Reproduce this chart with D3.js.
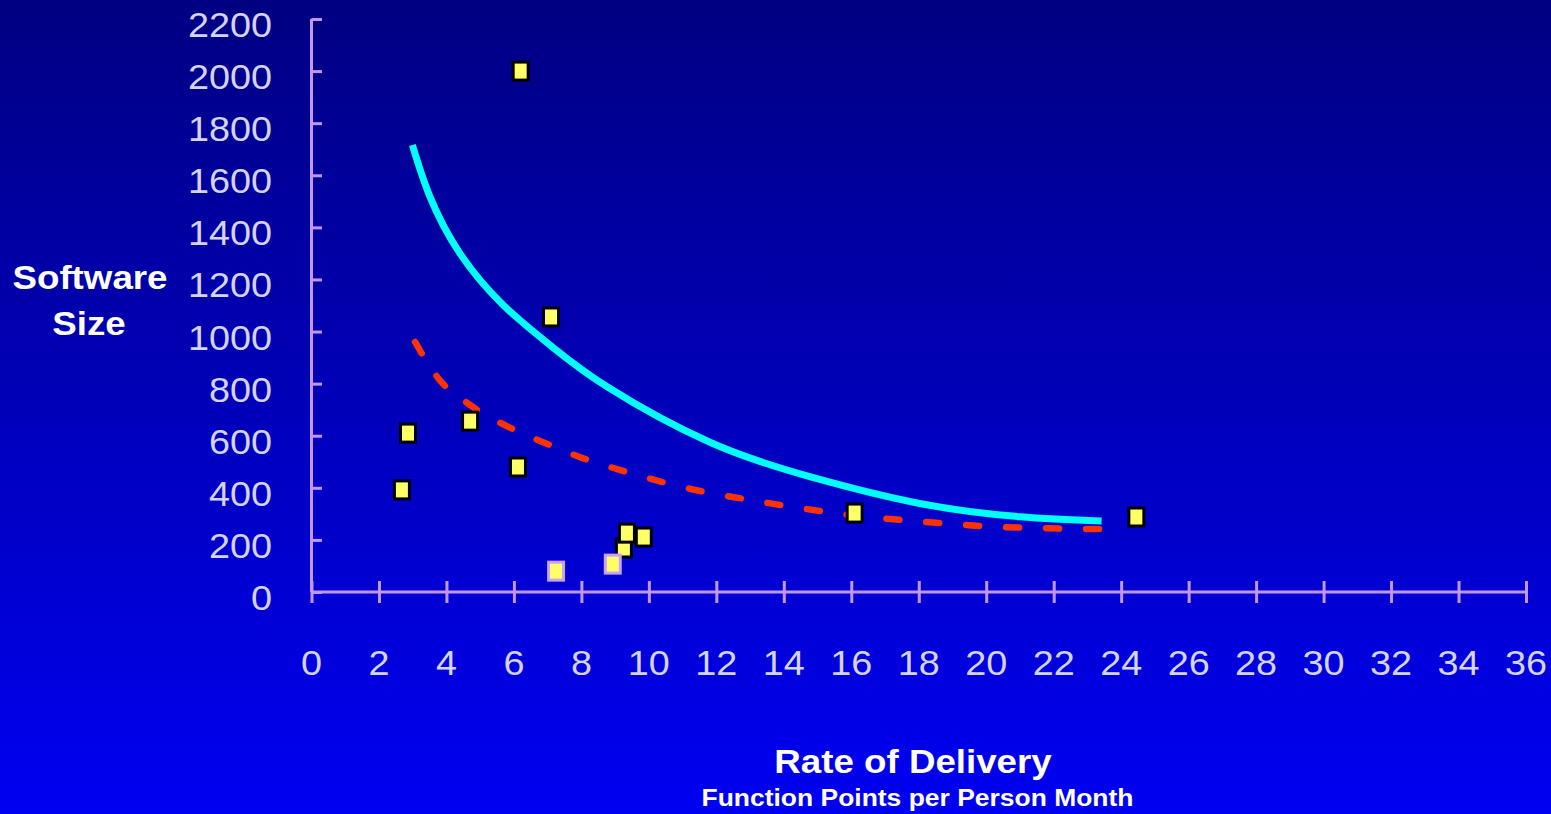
<!DOCTYPE html>
<html>
<head>
<meta charset="utf-8">
<script src="https://cdn.jsdelivr.net/npm/d3@7"></script>
<style>
  html, body { margin: 0; padding: 0; background: #0000c0; }
  svg { display: block; }
</style>
</head>
<body>
<svg id="chart" width="1551" height="814"></svg>
<script>
// ---------- data ----------
const xTicks = [0, 2, 4, 6, 8, 10, 12, 14, 16, 18, 20, 22, 24, 26, 28, 30, 32, 34, 36];
const yTicks = [0, 200, 400, 600, 800, 1000, 1200, 1400, 1600, 1800, 2000, 2200];

// projects (rate of delivery, software size)
const projectRate = [2.68, 2.86, 4.70, 6.12, 6.20, 7.10, 9.26, 9.35, 9.85, 16.10, 24.45];
const projectSize = [392, 610, 656, 480, 2000, 1056, 169, 226, 211, 303, 288];

// highlighted projects (light border)
const highlightRate = [7.25, 8.93];
const highlightSize = [80, 107];

// upper (solid cyan) trend curve
const upperRate = [2.99, 3.51, 4.40, 5.68, 7.07, 8.80, 11.81, 14.77, 18.03, 20.99, 23.42];
const upperSize = [1716, 1518, 1300, 1102, 948, 785, 575, 443, 340, 289, 273];

// lower (dashed red) trend curve
const lowerRate = [3.07, 3.75, 4.70, 5.79, 6.92, 8.04, 9.23, 10.41, 11.66, 12.84, 14.09, 15.30, 16.55, 17.79, 19.01, 20.25, 21.50, 22.77, 23.42];
const lowerSize = [960, 822, 718, 637, 572, 514, 465, 422, 384, 357, 330, 307, 288, 273, 261, 250, 246, 242, 242];

// ---------- setup ----------
const svg = d3.select("#chart");
const W = 1551, H = 814;

const defs = svg.append("defs");
const grad = defs.append("linearGradient").attr("id", "bg")
  .attr("x1", 0).attr("y1", 0).attr("x2", 0).attr("y2", 1);
grad.append("stop").attr("offset", "0%").attr("stop-color", "#000082");
grad.append("stop").attr("offset", "100%").attr("stop-color", "#0000f2");
svg.append("rect").attr("width", W).attr("height", H).attr("fill", "url(#bg)");

const x = d3.scaleLinear().domain([0, 36]).range([311.5, 1526]);
const y = d3.scaleLinear().domain([0, 2200]).range([592, 19]);

const axisColor = "#c496f8";
const labelColor = "#d4d4ff";
const font = "'Liberation Sans', Arial, Helvetica, sans-serif";
const stretch = 1.08;

// ---------- axes ----------
const gx = svg.append("g").attr("transform", `translate(0,${y(0)})`)
  .call(d3.axisBottom(x).tickValues(xTicks).tickSize(11).tickFormat(""));
gx.select(".domain").attr("stroke", axisColor).attr("stroke-width", 3)
  .attr("d", `M${x(0)},0H${x(36)}`);
gx.selectAll(".tick line").attr("stroke", axisColor).attr("stroke-width", 3).attr("y1", -11);

const gy = svg.append("g").attr("transform", `translate(${x(0)},0)`)
  .call(d3.axisLeft(y).tickValues(yTicks).tickSize(10.5).tickFormat(""));
gy.select(".domain").attr("stroke", axisColor).attr("stroke-width", 3)
  .attr("d", `M0,${y(0)}V${y(2200)}`);
gy.selectAll(".tick line").attr("stroke", axisColor).attr("stroke-width", 3).attr("x2", 10.5);

// tick labels
svg.append("g").selectAll("text").data(xTicks).join("text")
  .attr("transform", d => `translate(${x(d)},675) scale(${stretch},1)`)
  .attr("text-anchor", "middle")
  .attr("font-family", font).attr("font-size", 35)
  .attr("fill", labelColor)
  .text(d => d);

svg.append("g").selectAll("text").data(yTicks).join("text")
  .attr("transform", d => `translate(272,${y(d) + 18}) scale(${stretch},1)`)
  .attr("text-anchor", "end")
  .attr("font-family", font).attr("font-size", 35)
  .attr("fill", labelColor)
  .text(d => d);

// ---------- curves ----------
const smoothLine = d3.line().x(d => x(d[0])).y(d => y(d[1])).curve(d3.curveNatural);
const line = d3.line().x(d => x(d[0])).y(d => y(d[1])).curve(d3.curveMonotoneX);

svg.append("path")
  .datum(upperRate.map((r, i) => [r, upperSize[i]]))
  .attr("d", smoothLine)
  .attr("fill", "none").attr("stroke", "#00ffff").attr("stroke-width", 7);

svg.append("path")
  .datum(lowerRate.map((r, i) => [r, lowerSize[i]]))
  .attr("d", line)
  .attr("fill", "none").attr("stroke", "#ff3300").attr("stroke-width", 6.5)
  .attr("stroke-linecap", "round").attr("stroke-dasharray", "13 27");

// ---------- markers ----------
const mw = 15, mh = 18;
svg.append("g").selectAll("rect")
  .data(projectRate.map((r, i) => [r, projectSize[i]]))
  .join("rect")
  .attr("x", d => x(d[0]) - mw / 2).attr("y", d => y(d[1]) - mh / 2)
  .attr("width", mw).attr("height", mh)
  .attr("fill", "#ffff66").attr("stroke", "#000000").attr("stroke-width", 3);

svg.append("g").selectAll("rect")
  .data(highlightRate.map((r, i) => [r, highlightSize[i]]))
  .join("rect")
  .attr("x", d => x(d[0]) - mw / 2).attr("y", d => y(d[1]) - mh / 2)
  .attr("width", mw).attr("height", mh)
  .attr("fill", "#ffff66").attr("stroke", "#c8a0ff").attr("stroke-width", 3);

// ---------- titles ----------
function title(txt, cx, base, size) {
  svg.append("text")
    .attr("transform", `translate(${cx},${base}) scale(${stretch},1)`)
    .attr("font-family", font).attr("font-size", size).attr("font-weight", "bold")
    .attr("fill", "#ffffff").attr("text-anchor", "middle")
    .text(txt);
}
title("Software", 90, 289, 34);
title("Size", 89, 335, 34);
title("Rate of Delivery", 913, 773, 34);
title("Function Points per Person Month", 917.5, 806, 24.5);
</script>
</body>
</html>
